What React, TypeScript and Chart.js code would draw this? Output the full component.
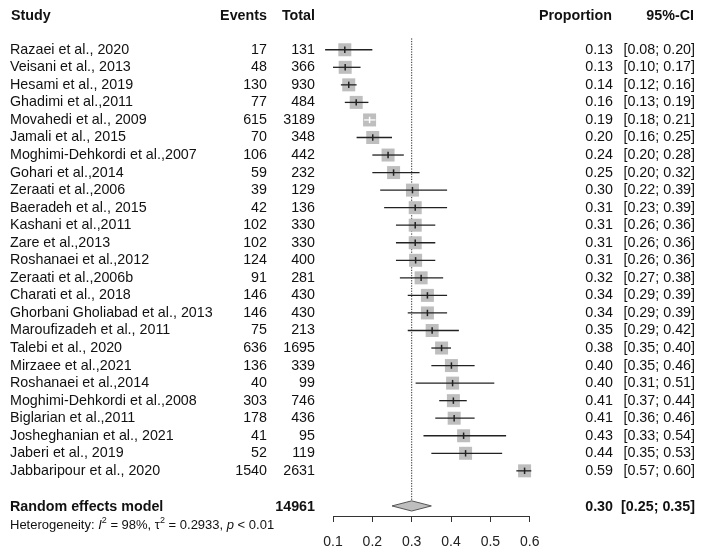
import React, { useEffect, useRef } from 'react';
import { Chart, registerables } from 'chart.js';

Chart.register(...registerables);

const studies = [
  'Razaei et al., 2020',
  'Veisani et al., 2013',
  'Hesami et al., 2019',
  'Ghadimi et al.,2011',
  'Movahedi et al., 2009',
  'Jamali et al., 2015',
  'Moghimi-Dehkordi et al.,2007',
  'Gohari et al.,2014',
  'Zeraati et al.,2006',
  'Baeradeh et al., 2015',
  'Kashani et al.,2011',
  'Zare et al.,2013',
  'Roshanaei et al.,2012',
  'Zeraati et al.,2006b',
  'Charati et al., 2018',
  'Ghorbani Gholiabad et al., 2013',
  'Maroufizadeh et al., 2011',
  'Talebi et al., 2020',
  'Mirzaee et al.,2021',
  'Roshanaei et al.,2014',
  'Moghimi-Dehkordi et al.,2008',
  'Biglarian et al.,2011',
  'Josheghanian et al., 2021',
  'Jaberi et al., 2019',
  'Jabbaripour et al., 2020',
];
const events = [17, 48, 130, 77, 615, 70, 106, 59, 39, 42, 102, 102, 124, 91, 146, 146, 75, 636, 136, 40, 303, 178, 41, 52, 1540];
const totals = [131, 366, 930, 484, 3189, 348, 442, 232, 129, 136, 330, 330, 400, 281, 430, 430, 213, 1695, 339, 99, 746, 436, 95, 119, 2631];
const proportions = [0.130, 0.131, 0.140, 0.159, 0.193, 0.201, 0.240, 0.254, 0.302, 0.309, 0.309, 0.309, 0.310, 0.324, 0.340, 0.340, 0.352, 0.376, 0.401, 0.404, 0.406, 0.408, 0.432, 0.437, 0.587];
const lower = [0.08, 0.10, 0.12, 0.13, 0.179, 0.16, 0.20, 0.20, 0.22, 0.23, 0.26, 0.26, 0.26, 0.27, 0.29, 0.29, 0.29, 0.35, 0.35, 0.31, 0.37, 0.36, 0.33, 0.35, 0.566];
const upper = [0.20, 0.17, 0.16, 0.19, 0.208, 0.25, 0.28, 0.32, 0.39, 0.39, 0.36, 0.36, 0.36, 0.38, 0.39, 0.39, 0.42, 0.40, 0.46, 0.51, 0.44, 0.46, 0.54, 0.53, 0.604];

const pooledLabel = 'Random effects model';
const pooledTotal = 14961;
const pooledEst = 0.30;
const pooledLower = 0.25;
const pooledUpper = 0.35;
const xTickValues = [0.1, 0.2, 0.3, 0.4, 0.5, 0.6];

const W = 702;
const H = 553;
const SQUARE = 13;
const HEADER_ROW = -0.9;
const POOLED_ROW = 27;
const HET_ROW = 28.1;
const DIAMOND_HALF = 0.29;
const FONT = "'Liberation Sans', Arial, Helvetica, sans-serif";
const FS = 14.3;

const textPlugin = {
  id: 'forestText',
  afterDraw(chart: any) {
    const ctx = chart.ctx as CanvasRenderingContext2D;
    const ys = chart.scales.y;
    const py = (r: number) => ys.getPixelForValue(r);
    ctx.save();
    ctx.fillStyle = '#111';
    ctx.textBaseline = 'middle';

    // header
    ctx.font = `bold ${FS}px ${FONT}`;
    ctx.textAlign = 'left';
    ctx.fillText('Study', 11, py(HEADER_ROW));
    ctx.textAlign = 'right';
    ctx.fillText('Events', 267, py(HEADER_ROW));
    ctx.fillText('Total', 315, py(HEADER_ROW));
    ctx.fillText('Proportion', 612, py(HEADER_ROW));
    ctx.fillText('95%-CI', 694, py(HEADER_ROW));

    // rows
    ctx.font = `${FS}px ${FONT}`;
    studies.forEach((name, i) => {
      const y = py(i + 1);
      ctx.textAlign = 'left';
      ctx.fillText(name, 10, y);
      ctx.textAlign = 'right';
      ctx.fillText(String(events[i]), 267, y);
      ctx.fillText(String(totals[i]), 315, y);
      ctx.fillText(proportions[i].toFixed(2), 613, y);
      ctx.fillText(`[${lower[i].toFixed(2)}; ${upper[i].toFixed(2)}]`, 695, y);
    });

    // pooled
    const yp = py(POOLED_ROW) + 1.5;
    ctx.font = `bold ${FS}px ${FONT}`;
    ctx.textAlign = 'left';
    ctx.fillText(pooledLabel, 10, yp);
    ctx.textAlign = 'right';
    ctx.fillText(String(pooledTotal), 315, yp);
    ctx.fillText(pooledEst.toFixed(2), 613, yp);
    ctx.fillText(`[${pooledLower.toFixed(2)}; ${pooledUpper.toFixed(2)}]`, 695, yp);

    // heterogeneity
    const yh = py(HET_ROW);
    ctx.textAlign = 'left';
    let x = 10;
    const piece = (t: string, font: string, dy = 0) => {
      ctx.font = font;
      ctx.fillText(t, x, yh + dy);
      x += ctx.measureText(t).width;
    };
    const normal = `13px ${FONT}`;
    const italic = `italic 13px ${FONT}`;
    const sup = `9px ${FONT}`;
    piece('Heterogeneity: ', normal);
    piece('I', italic);
    piece('2', sup, -5);
    piece(' = 98%, ', normal);
    piece('\u03C4', normal);
    piece('2', sup, -5);
    piece(' = 0.2933, ', normal);
    piece('p', italic);
    piece(' < 0.01', normal);
    ctx.restore();
  },
};

function ciInside(chart: any, i: number) {
  const xs = chart.scales.x;
  if (!xs) return false;
  return xs.getPixelForValue(upper[i]) - xs.getPixelForValue(lower[i]) < SQUARE;
}

export default function App() {
  const ref = useRef<HTMLCanvasElement | null>(null);
  useEffect(() => {
    document.body.style.margin = '0';
    const canvas = ref.current;
    if (!canvas) return;

    const ciData: { x: number; y: number }[] = [];
    studies.forEach((_, i) => {
      ciData.push({ x: lower[i], y: i + 1 });
      ciData.push({ x: upper[i], y: i + 1 });
      ciData.push({ x: NaN, y: NaN });
    });

    const chart = new Chart(canvas, {
      type: 'scatter',
      data: {
        datasets: [
          {
            label: 'reference',
            data: [
              { x: pooledEst, y: 0.35 },
              { x: pooledEst, y: POOLED_ROW - DIAMOND_HALF },
            ],
            showLine: true,
            borderColor: '#333',
            borderWidth: 1,
            borderDash: [1.3, 1.3],
            pointRadius: 0,
            order: 6,
          } as any,
          {
            label: 'weights',
            data: studies.map((_, i) => ({ x: proportions[i], y: i + 1 })),
            pointStyle: 'rect',
            pointRadius: SQUARE / Math.SQRT2,
            backgroundColor: '#bebebe',
            borderWidth: 0,
            pointBorderWidth: 0,
            order: 5,
          } as any,
          {
            label: 'ci',
            data: ciData,
            showLine: true,
            spanGaps: false,
            pointRadius: 0,
            borderWidth: 1.3,
            borderColor: '#222',
            segment: {
              borderColor: (c: any) =>
                ciInside(c.chart, Math.floor(c.p0DataIndex / 3)) ? '#ffffff' : '#222',
            },
            order: 4,
          } as any,
          {
            label: 'estimate',
            data: studies.map((_, i) => ({ x: proportions[i], y: i + 1 })),
            pointStyle: 'line',
            rotation: 90,
            pointRadius: 3.2,
            pointBorderWidth: 1.5,
            pointBorderColor: (c: any) =>
              ciInside(c.chart, c.dataIndex) ? '#ffffff' : '#222',
            order: 3,
          } as any,
          {
            label: 'pooled',
            data: [
              { x: pooledLower, y: POOLED_ROW },
              { x: pooledEst, y: POOLED_ROW - DIAMOND_HALF },
              { x: pooledUpper, y: POOLED_ROW },
              { x: pooledEst, y: POOLED_ROW + DIAMOND_HALF },
              { x: pooledLower, y: POOLED_ROW },
            ],
            showLine: true,
            fill: 'shape',
            backgroundColor: '#bebebe',
            borderColor: '#555',
            borderWidth: 1,
            pointRadius: 0,
            tension: 0,
            order: 2,
          } as any,
        ],
      },
      options: {
        responsive: false,
        animation: false,
        events: [],
        clip: false as any,
        layout: { padding: { left: 333, right: 172.3, top: 0, bottom: 0 } },
        plugins: {
          legend: { display: false },
          tooltip: { enabled: false },
        },
        scales: {
          x: {
            type: 'linear',
            min: 0.1,
            max: 0.6,
            afterBuildTicks: (s: any) => {
              s.ticks = xTickValues.map((v) => ({ value: v }));
            },
            afterFit: (s: any) => {
              s.height = 37;
            },
            ticks: {
              callback: (v: any) => Number(v).toFixed(1),
              font: { size: 14, family: FONT },
              color: '#222',
              padding: 12,
              maxRotation: 0,
            },
            border: { display: true, color: '#333', width: 1 },
            grid: { drawOnChartArea: false, drawTicks: true, tickLength: 6, color: '#333' },
          },
          y: {
            type: 'linear',
            reverse: true,
            min: -1.3125,
            max: 27.574,
            display: false,
          },
        },
      } as any,
      plugins: [textPlugin],
    });
    return () => chart.destroy();
  }, []);

  return (
    <div style={{ width: W, height: H, background: '#fff' }}>
      <canvas ref={ref} width={W} height={H} style={{ display: 'block', width: W, height: H }} />
    </div>
  );
}
